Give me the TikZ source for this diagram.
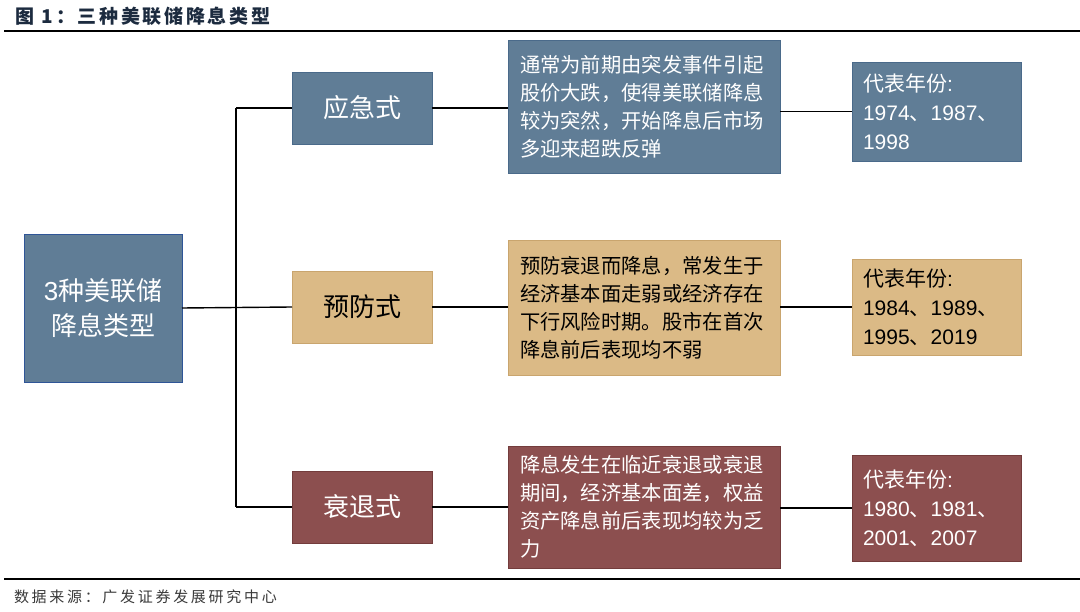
\documentclass[tikz,border=0pt]{standalone}
\usepackage{fontspec}
\setmainfont{Noto Sans CJK SC}
\newfontfamily\lat{Liberation Sans}
\definecolor{slate}{HTML}{607D96}
\definecolor{slateedge}{HTML}{4A6A8A}
\definecolor{rootedge}{HTML}{2F5597}
\definecolor{tan}{HTML}{DBBA86}
\definecolor{tanedge}{HTML}{C9A56E}
\definecolor{maroon}{HTML}{8C4F4F}
\definecolor{maroonedge}{HTML}{733C3C}
\definecolor{titlecol}{HTML}{1C2B3F}
\definecolor{footcol}{HTML}{3A3A3A}
\begin{document}
\begin{tikzpicture}[x=1pt,y=-1pt,
  every node/.style={inner sep=0pt, outer sep=0pt},
  conn/.style={draw=black, line width=1.4pt},
  rule/.style={draw=black, line width=2.2pt},
  rootbox/.style={draw=rootedge, fill=slate, line width=0.9pt, text=white, minimum width=158pt, minimum height=148pt, align=center, font=\fontsize{26}{35}\selectfont},
  lvbox/.style={line width=0.8pt, minimum width=140pt, minimum height=72pt, align=center, font=\fontsize{26}{30}\selectfont},
  descbox/.style={line width=0.8pt, inner xsep=12pt, text width=248pt, minimum height=#1, align=left, font=\fontsize{20.3}{28}\selectfont},
  yearbox/.style={line width=0.8pt, inner xsep=11pt, text width=147pt, minimum height=#1, align=left, font=\fontsize{21}{29}\selectfont},
  blue/.style={fill=slate, draw=slateedge, text=white},
  sand/.style={fill=tan, draw=tanedge, text=black},
  red/.style={fill=maroon, draw=maroonedge, text=white}
]
\useasboundingbox (0,0) rectangle (1080,612);
\fill[white] (0,0) rectangle (1080,612);

% title and rules
\node[anchor=west, text=titlecol, font=\fontsize{19}{20}\selectfont\bfseries\addfontfeature{LetterSpace=14}] (title) at (16,16) {图 1：三种美联储降息类型};
\coordinate (tl) at (4,31);
\coordinate (tr) at (1080,31);
\draw[rule] (tl) -- (tr);
\coordinate (bl) at (4,579);
\coordinate (br) at (1080,579);
\draw[rule] (bl) -- (br);
\node[anchor=west, text=footcol, font=\fontsize{15}{17}\selectfont\addfontfeature{LetterSpace=18}] (foot) at (14,597) {数据来源：广发证券发展研究中心};

% root
\node[rootbox] (root) at (103,308) {{\lat 3}种美联储\\降息类型};

% level 1
\node[lvbox, blue] (l1) at (362,108) {应急式};
\node[lvbox, sand] (l2) at (362,307) {预防式};
\node[lvbox, red] (l3) at (362,507) {衰退式};

% descriptions
\node[descbox=133pt, blue] (d1) at (644,106.5) {通常为前期由突发事件引起\\股价大跌，使得美联储降息\\较为突然，开始降息后市场\\多迎来超跌反弹};
\node[descbox=135pt, sand] (d2) at (644,307.5) {预防衰退而降息，常发生于\\经济基本面走弱或经济存在\\下行风险时期。股市在首次\\降息前后表现均不弱};
\node[descbox=122pt, red] (d3) at (644,507) {降息发生在临近衰退或衰退\\期间，经济基本面差，权益\\资产降息前后表现均较为乏\\力};

% years
\node[yearbox=99pt, blue] (y1) at (936.5,111.5) {代表年份{\lat :}\\{\lat 1974}、{\lat 1987}、\\{\lat 1998}};
\node[yearbox=96pt, sand] (y2) at (936.5,307) {代表年份{\lat :}\\{\lat 1984}、{\lat 1989}、\\{\lat 1995}、{\lat 2019}};
\node[yearbox=106pt, red] (y3) at (936.5,508) {代表年份{\lat :}\\{\lat 1980}、{\lat 1981}、\\{\lat 2001}、{\lat 2007}};

% connectors
\coordinate (vt) at (236,108);
\coordinate (vb) at (236,507);
\draw[conn] (vt) -- (vb);
\draw[conn] (root.east) -- (l2.west);
\draw[conn] (vt) -- (l1.west);
\draw[conn] (vb) -- (l3.west);
\draw[conn] (l1.east) -- (d1.west |- l1.east);
\draw[conn] (l2.east) -- (d2.west |- l2.east);
\draw[conn] (l3.east) -- (d3.west |- l3.east);
\draw[conn] (d1.east |- y1.west) -- (y1.west);
\draw[conn] (d2.east |- y2.west) -- (y2.west);
\draw[conn] (d3.east |- y3.west) -- (y3.west);
\end{tikzpicture}
\end{document}
